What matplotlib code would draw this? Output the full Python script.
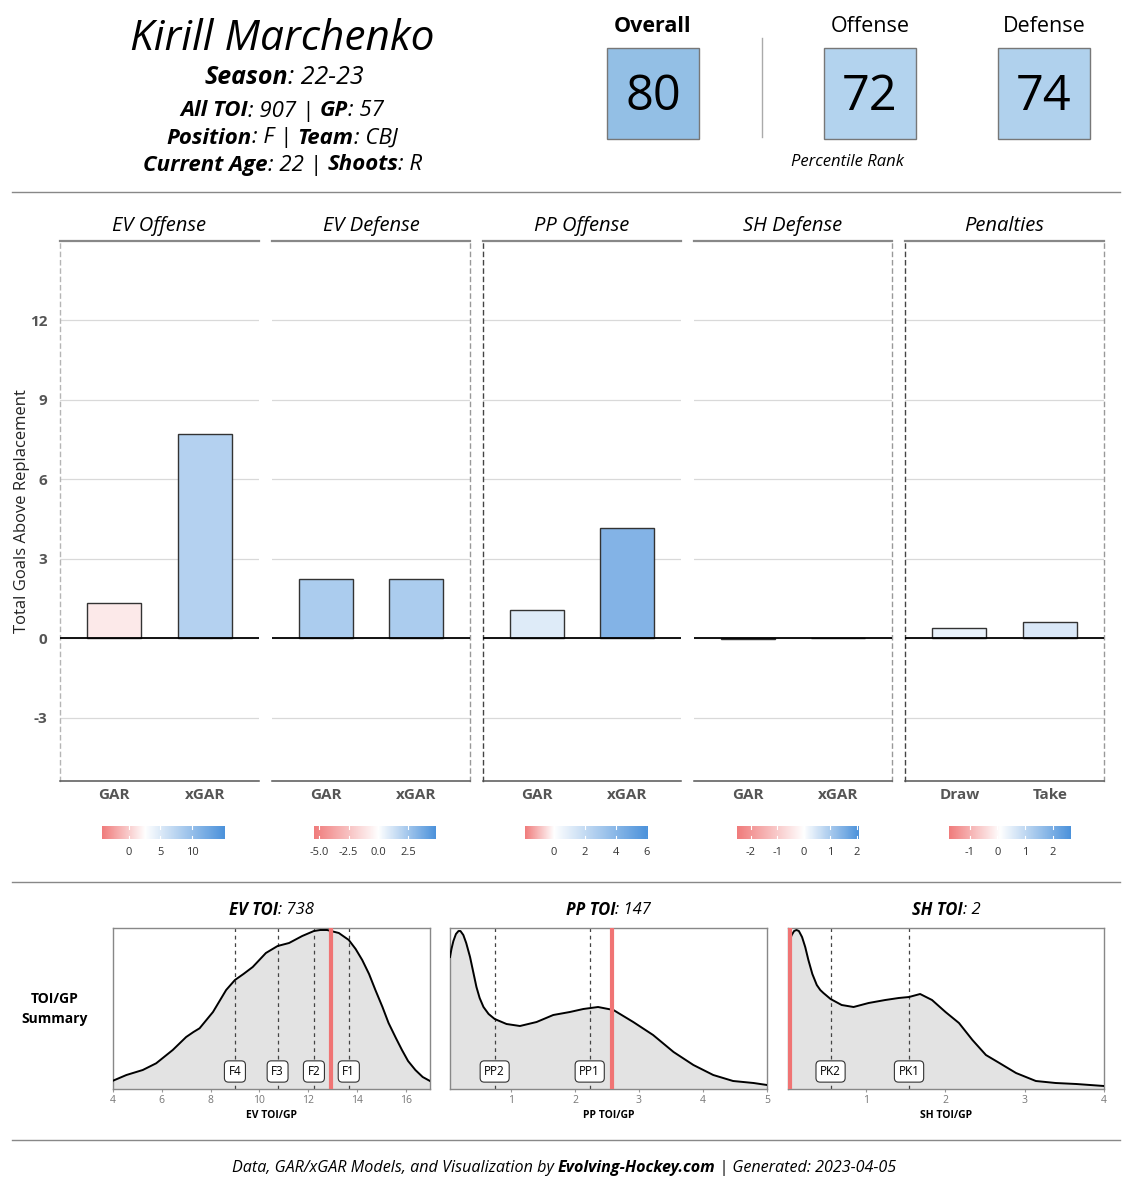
import numpy as np
import matplotlib
matplotlib.use("Agg")
import matplotlib.pyplot as plt
from matplotlib.colors import LinearSegmentedColormap, TwoSlopeNorm
from matplotlib.patches import Rectangle

plt.rcParams['font.family'] = ['Open Sans', 'DejaVu Sans']

W, H = 1129, 1200

# Player info
player = "Kirill Marchenko"
season = "22-23"
all_toi = 907
gp = 57
position = "F"
team = "CBJ"
age = 22
shoots = "R"

rank_labels = ["Overall", "Offense", "Defense"]
rank_values = [80, 72, 74]

# GAR / xGAR panels
panel_titles = ["EV Offense", "EV Defense", "PP Offense", "SH Defense", "Penalties"]
panel_cats = [["GAR", "xGAR"], ["GAR", "xGAR"], ["GAR", "xGAR"], ["GAR", "xGAR"], ["Draw", "Take"]]
panel_values = [[1.35, 7.72], [2.25, 2.23], [1.08, 4.17], [-0.02, 0.01], [0.40, 0.62]]

# colour scale of each panel: low end, white point, high end, ticks
scale_low = [-4.3, -5.4, -1.85, -2.53, -1.75]
scale_mid = [2.5, 0.0, 0.0, 0.0, 0.1]
scale_high = [15.1, 4.83, 6.0, 2.08, 2.66]
scale_ticks = [[0, 5, 10], [-5.0, -2.5, 0.0, 2.5], [0, 2, 4, 6], [-2, -1, 0, 1, 2], [-1, 0, 1, 2]]
scale_ticklabels = [["0", "5", "10"], ["-5.0", "-2.5", "0.0", "2.5"], ["0", "2", "4", "6"],
                    ["-2", "-1", "0", "1", "2"], ["-1", "0", "1", "2"]]

# TOI/GP densities (league distribution)
ev_toi = 738
ev_x = [4.0, 4.55, 5.22, 5.77, 6.45, 7.0, 7.3, 7.55, 8.1, 8.64, 9.0, 9.35, 9.73, 10.27, 10.75, 11.22,
        11.76, 12.24, 12.5, 12.78, 13.26, 13.67, 13.95, 14.22, 14.5, 14.76, 15.05, 15.3, 15.6, 15.85,
        16.1, 16.4, 16.7, 17.0]
ev_y = [0.0073, 0.013, 0.018, 0.0247, 0.038, 0.051, 0.056, 0.0597, 0.076, 0.098, 0.108, 0.114, 0.121,
        0.135, 0.142, 0.145, 0.152, 0.157, 0.158, 0.158, 0.155, 0.148, 0.139, 0.128, 0.114, 0.098,
        0.081, 0.065, 0.050, 0.038, 0.027, 0.018, 0.011, 0.007]
ev_lines = [9.0, 10.75, 12.24, 13.67]
ev_names = ["F4", "F3", "F2", "F1"]

pp_toi = 147
pp_x = [0.047, 0.07, 0.10, 0.14, 0.18, 0.21, 0.255, 0.30, 0.36, 0.41, 0.46, 0.51, 0.57, 0.65, 0.745,
        0.93, 1.14, 1.40, 1.66, 1.92, 2.13, 2.36, 2.60, 2.91, 3.22, 3.54, 3.85, 4.16, 4.47, 4.79, 5.0]
pp_y = [0.131, 0.139, 0.147, 0.154, 0.157, 0.157, 0.153, 0.145, 0.131, 0.116, 0.101, 0.090, 0.081,
        0.074, 0.069, 0.064, 0.062, 0.066, 0.073, 0.076, 0.079, 0.081, 0.078, 0.066, 0.053, 0.036,
        0.023, 0.013, 0.007, 0.005, 0.003]
pp_lines = [0.745, 2.23]
pp_names = ["PP2", "PP1"]

sh_toi = 2
sh_x = [0.013, 0.035, 0.06, 0.09, 0.12, 0.15, 0.19, 0.23, 0.27, 0.32, 0.376, 0.42, 0.46, 0.55, 0.69,
        0.84, 1.03, 1.24, 1.41, 1.54, 1.68, 1.83, 2.0, 2.17, 2.34, 2.51, 2.68, 2.89, 3.14, 3.39, 3.65, 4.0]
sh_y = [0.141, 0.148, 0.153, 0.157, 0.158, 0.157, 0.151, 0.141, 0.128, 0.114, 0.103, 0.098, 0.095,
        0.089, 0.083, 0.081, 0.085, 0.088, 0.090, 0.091, 0.094, 0.088, 0.076, 0.065, 0.048, 0.033,
        0.025, 0.015, 0.007, 0.005, 0.004, 0.002]
sh_lines = [0.55, 1.54]
sh_names = ["PK2", "PK1"]

gen_date = "2023-04-05"

fig = plt.figure(figsize=(W / 100, H / 100), dpi=100)

# overlay in pixel coordinates for header / footer
hdr = fig.add_axes([0, 0, 1, 1])
hdr.set_xlim(0, W)
hdr.set_ylim(H, 0)
hdr.axis('off')


def px_axes(x0, y0, x1, y1):
    return fig.add_axes([x0 / W, 1 - y1 / H, (x1 - x0) / W, (y1 - y0) / H])


def rich_text(x, y, parts, size, color='black'):
    renderer = fig.canvas.get_renderer()
    items = []
    for s, weight, style in parts:
        t = hdr.text(0, y, s, fontsize=size, fontweight=weight, fontstyle=style,
                     va='center', ha='left', color=color)
        items.append(t)
    widths = [t.get_window_extent(renderer).width for t in items]
    start = x - sum(widths) / 2
    for t, w in zip(items, widths):
        t.set_x(start)
        start += w


# Header text
hdr.text(282, 39, player, fontsize=30.5, fontstyle='italic', ha='center', va='center')
rich_text(284, 78, [("Season", 'bold', 'italic'), (": " + season, 'normal', 'italic')], 18)
rich_text(282, 111, [("All TOI", 'bold', 'italic'), (f": {all_toi} | ", 'normal', 'italic'),
                     ("GP", 'bold', 'italic'), (f": {gp}", 'normal', 'italic')], 16)
rich_text(282, 138, [("Position", 'bold', 'italic'), (f": {position} | ", 'normal', 'italic'),
                     ("Team", 'bold', 'italic'), (f": {team}", 'normal', 'italic')], 16)
rich_text(283, 165, [("Current Age", 'bold', 'italic'), (f": {age} | ", 'normal', 'italic'),
                      ("Shoots", 'bold', 'italic'), (f": {shoots}", 'normal', 'italic')], 16)

# percentile boxes
box_x = [607, 824, 998]
box_colors = ["#93bfe5", "#b3d3ee", "#b0d1ed"]
for i, (lab, val) in enumerate(zip(rank_labels, rank_values)):
    x0 = box_x[i]
    hdr.add_patch(Rectangle((x0, 48), 92, 91, facecolor=box_colors[i], edgecolor='#777777', lw=1))
    hdr.text(x0 + 46, 97, str(val), fontsize=35, ha='center', va='center')
    hdr.text(x0 + 46, 27, lab, fontsize=15.5, ha='center', va='center',
             fontweight='bold' if i == 0 else 'normal')
hdr.plot([762, 762], [38, 137], color='#aaaaaa', lw=1)
hdr.text(847, 162, "Percentile Rank", fontsize=12, fontstyle='italic', ha='center', va='center')

# separators
for yy in [192, 882, 1140]:
    hdr.plot([12, 1120], [yy, yy], color='#888888', lw=1)

# GAR panels
cmap = LinearSegmentedColormap.from_list("gar", ["#f07c7c", "#ffffff", "#4c92db"])
panel_x = [(60, 259), (272, 470), (483, 681), (694, 892), (905, 1104)]
bar_x = [(102, 224), (314, 436), (525, 647), (737, 859), (949, 1071)]
left_dash = [True, False, True, False, True]
right_dash = [False, True, False, True, True]
left_col = ['#b5b5b5', None, '#444444', None, '#444444']

for i in range(5):
    ax = px_axes(panel_x[i][0], 241, panel_x[i][1], 781)
    norm = TwoSlopeNorm(vmin=scale_low[i], vcenter=scale_mid[i], vmax=scale_high[i])
    cols = [cmap(norm(v)) for v in panel_values[i]]
    ax.bar([0, 1], panel_values[i], width=0.6, color=cols, edgecolor='#333333', lw=1, zorder=3)
    ax.axhline(0, color='black', lw=1.3, zorder=4)
    ax.set_xlim(-0.6, 1.6)
    ax.set_ylim(-5.38, 15.0)
    ax.set_yticks([-3, 0, 3, 6, 9, 12])
    ax.yaxis.grid(True, color='#d9d9d9', lw=0.9, zorder=0)
    ax.set_axisbelow(True)
    ax.set_xticks([0, 1])
    ax.set_xticklabels(panel_cats[i], fontweight='bold', color='#555555', fontsize=11)
    ax.tick_params(axis='both', length=0)
    ax.tick_params(axis='x', pad=5)
    if i == 0:
        ax.set_yticklabels(["-3", "0", "3", "6", "9", "12"], fontweight='bold', color='#555555', fontsize=11)
        ax.tick_params(axis='y', pad=9)
    else:
        ax.set_yticklabels([])
    ax.spines['top'].set_color('#888888')
    ax.spines['top'].set_linewidth(1.6)
    ax.spines['bottom'].set_color('#555555')
    ax.spines['bottom'].set_linewidth(1.1)
    for side, show, col in [('left', left_dash[i], left_col[i] or '#999999'),
                            ('right', right_dash[i], '#999999')]:
        sp = ax.spines[side]
        sp.set_visible(show)
        sp.set_linestyle((0, (3, 3)))
        sp.set_color(col)
        sp.set_linewidth(1)
    ax.set_title(panel_titles[i], fontsize=14.5, fontstyle='italic', pad=7)

    # colour legend
    cax = px_axes(bar_x[i][0], 826, bar_x[i][1], 839)
    grad = np.linspace(scale_low[i], scale_high[i], 300)
    cax.imshow(cmap(norm(grad))[None, :, :], extent=[scale_low[i], scale_high[i], 0, 1], aspect='auto')
    for t in scale_ticks[i]:
        cax.plot([t, t], [0, 0.2], color='white', lw=0.8)
        cax.plot([t, t], [0.8, 1], color='white', lw=0.8)
    cax.set_xlim(scale_low[i], scale_high[i])
    cax.set_ylim(0, 1)
    cax.set_yticks([])
    cax.set_xticks(scale_ticks[i])
    cax.set_xticklabels(scale_ticklabels[i], fontsize=8, color='#333333')
    cax.tick_params(axis='x', length=0, pad=6)
    for sp in cax.spines.values():
        sp.set_visible(False)

hdr.text(22, 511, "Total Goals Above Replacement", fontsize=12, color='#222222', rotation=90,
         ha='center', va='center')

# TOI/GP density panels
dens = [
    ("EV", ev_toi, ev_x, ev_y, ev_lines, ev_names, (113, 430), (4, 17), [4, 6, 8, 10, 12, 14, 16]),
    ("PP", pp_toi, pp_x, pp_y, pp_lines, pp_names, (450, 767), (0.047, 5), [1, 2, 3, 4, 5]),
    ("SH", sh_toi, sh_x, sh_y, sh_lines, sh_names, (788, 1104), (0.013, 4), [1, 2, 3, 4]),
]
for name, toi, xs, ys, qlines, qnames, (x0, x1), xlim, ticks in dens:
    ax = px_axes(x0, 928, x1, 1089)
    ax.fill_between(xs, ys, color='#e3e3e3', zorder=1)
    ax.plot(xs, ys, color='black', lw=1.4, zorder=3, solid_joinstyle='round')
    for q, qn in zip(qlines, qnames):
        ax.axvline(q, color='#444444', lw=0.9, ls=(0, (3, 3)), zorder=2)
        ax.text(q, 0.0165, qn, fontsize=8.5, ha='center', va='center', zorder=5,
                bbox=dict(boxstyle='round,pad=0.35', fc='white', ec='#333333', lw=0.8))
    ax.axvline(toi / gp, color='#f07474', lw=3, zorder=4)
    ax.set_xlim(*xlim)
    ax.set_ylim(-0.001, 0.160)
    ax.set_yticks([])
    ax.set_xticks(ticks)
    ax.set_xticklabels([str(t) for t in ticks], fontsize=7.5, color='#777777')
    ax.tick_params(axis='x', length=2, color='#999999', pad=2)
    ax.set_xlabel(f"{name} TOI/GP", fontsize=7.5, fontweight='bold', labelpad=3)
    for sp in ax.spines.values():
        sp.set_color('#888888')
        sp.set_linewidth(1)
    rich_text((x0 + x1) / 2, 910, [(f"{name} TOI", 'bold', 'italic'), (f": {toi}", 'normal', 'italic')], 12)

hdr.text(55, 1009, "TOI/GP\nSummary", fontsize=10, fontweight='bold', ha='center', va='center',
         linespacing=1.6)

rich_text(564, 1168, [("Data, GAR/xGAR Models, and Visualization by ", 'normal', 'italic'),
                      ("Evolving-Hockey.com", 'bold', 'italic'),
                      (f" | Generated: {gen_date}", 'normal', 'italic')], 11.6)

fig.savefig("out.png", dpi=100)
